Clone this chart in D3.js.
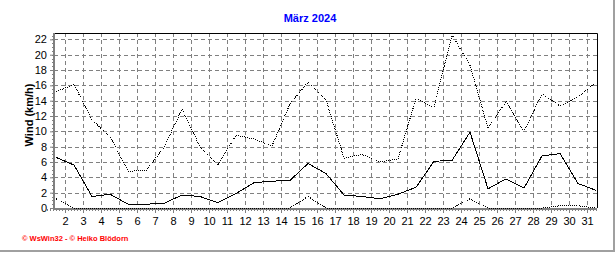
<!DOCTYPE html>
<html>
<head>
<meta charset="utf-8">
<title>Wind März 2024</title>
<script type="text/javascript" src="https://d3js.org/d3.v7.min.js"></script>
<style>
  body { margin: 0; background: #fff; }
  svg text { font-family: "Liberation Sans", Arial, sans-serif; }
</style>
</head>
<body>
<div class="chart"></div>

<script type="text/javascript">

    // values, one per day (1..31)
    const days = d3.range(1, 32);
    const windMax  = [15.2, 16.1, 11.5, 9.3, 4.8, 4.9, 7.9, 12.9, 8.0, 5.6, 9.5, 9.0, 8.1, 13.6, 16.4,
                      14.1, 6.5, 7.0, 6.0, 6.4, 14.3, 13.1, 22.6, 18.6, 10.4, 13.9, 10.0, 14.9, 13.3, 14.5, 16.4];
    const windMean = [6.6, 5.6, 1.5, 1.8, 0.5, 0.5, 0.6, 1.7, 1.5, 0.7, 1.9, 3.3, 3.5, 3.6, 5.8,
                      4.5, 1.7, 1.5, 1.2, 1.8, 2.7, 6.1, 6.2, 9.9, 2.5, 3.8, 2.6, 6.8, 7.1, 3.2, 2.3];
    const windMin  = [1.2, 0, 0, 0, 0, 0, 0, 0, 0, 0, 0, 0, 0, 0, 1.5,
                      0, 0, 0, 0, 0, 0, 0, 0, 1.2, 0, 0, 0, 0, 0.3, 0.3, 0];
    const yTicks = d3.range(0, 23, 2);
    const dayLabels = d3.range(2, 32);

    const width = 616, height = 253;
    const plot = {left: 54, right: 597, top: 33, bottom: 208};

    const svg = d3.select(".chart").append("svg")
        .attr("width", width)
        .attr("height", height);

    const xScale = d3.scaleLinear()
        .domain([0, 30])
        .range([56, 596]);

    const yScale = d3.scaleLinear()
        .domain([0, 22.83])
        .range([plot.bottom, plot.top]);

    // title
    svg.append("text")
        .attr("x", 310)
        .attr("y", 22)
        .attr("text-anchor", "middle")
        .style("font-size", "11px")
        .style("font-weight", "bold")
        .style("fill", "#0000ff")
        .text("März 2024");

    // grid
    svg.append("g")
        .selectAll("line")
        .data(yTicks.filter(d => d > 0))
        .join("line")
        .attr("x1", plot.left).attr("x2", plot.right)
        .attr("y1", d => Math.round(yScale(d)) + 0.5)
        .attr("y2", d => Math.round(yScale(d)) + 0.5)
        .attr("stroke", "#808080")
        .attr("stroke-dasharray", "4,3");

    svg.append("g")
        .selectAll("line")
        .data(dayLabels)
        .join("line")
        .attr("x1", d => Math.round(xScale(d - 1.5)) + 0.5)
        .attr("x2", d => Math.round(xScale(d - 1.5)) + 0.5)
        .attr("y1", plot.top).attr("y2", plot.bottom)
        .attr("stroke", "#808080")
        .attr("stroke-dasharray", "4,3");

    // top and right border
    svg.append("path")
        .attr("d", `M${plot.left},${plot.top + 0.5}H${plot.right + 0.5}V${plot.bottom}`)
        .attr("fill", "none")
        .attr("stroke", "#000");

    // axes
    const yAxis = d3.axisLeft(yScale)
        .tickValues(yTicks)
        .tickSize(4)
        .tickPadding(3);

    const gy = svg.append("g")
        .attr("transform", "translate(" + plot.left + ",0)")
        .call(yAxis);

    const xAxis = d3.axisBottom(xScale)
        .tickValues(dayLabels.map(d => d - 1.5))
        .tickFormat((d, i) => dayLabels[i])
        .tickSize(4)
        .tickPadding(4);

    const gx = svg.append("g")
        .attr("transform", "translate(0," + (plot.bottom + 1) + ")")
        .call(xAxis);

    // minor ticks
    gx.append("g")
        .selectAll("line")
        .data(d3.range(-0.5, 30.01, 1 / 6))
        .join("line")
        .attr("x1", d => Math.round(xScale(d)) + 0.5)
        .attr("x2", d => Math.round(xScale(d)) + 0.5)
        .attr("y1", 0).attr("y2", 2)
        .attr("stroke", "#808080");

    gy.append("g")
        .selectAll("line")
        .data(d3.range(0, 22.8, 0.5))
        .join("line")
        .attr("y1", d => Math.round(yScale(d)) + 0.5)
        .attr("y2", d => Math.round(yScale(d)) + 0.5)
        .attr("x1", 0).attr("x2", -2)
        .attr("stroke", "#808080");

    [gx, gy].forEach(g => {
        g.select(".domain").attr("stroke", "#808080").attr("stroke-width", 2);
        g.selectAll(".tick line").attr("stroke", "#808080");
        g.selectAll(".tick text")
            .style("font-size", "11px")
            .style("font-family", "'Liberation Sans', Arial, sans-serif")
            .attr("fill", "#000");
    });
    gx.select(".domain").attr("d", `M${plot.left},0H${plot.right}`);
    gy.select(".domain").attr("d", `M0,${plot.top}V${plot.bottom + 2}`);

    // y-axis title
    svg.append("text")
        .attr("transform", "translate(33,115) rotate(-90)")
        .attr("text-anchor", "middle")
        .style("font-size", "11px")
        .style("font-weight", "bold")
        .text("Wind  (km/h)");

    // series
    const line = d3.line()
        .x((d, i) => xScale(i))
        .y(d => yScale(d));

    svg.append("path")
        .datum(windMax)
        .attr("d", line)
        .attr("fill", "none")
        .attr("stroke", "#000")
        .attr("stroke-dasharray", "1,1")
        .attr("shape-rendering", "crispEdges");

    svg.append("path")
        .datum(windMin)
        .attr("d", line)
        .attr("fill", "none")
        .attr("stroke", "#000")
        .attr("stroke-dasharray", "1,1")
        .attr("shape-rendering", "crispEdges");

    svg.append("path")
        .datum(windMean)
        .attr("d", line)
        .attr("fill", "none")
        .attr("stroke", "#000")
        .attr("shape-rendering", "crispEdges");

    // footer
    svg.append("text")
        .attr("x", 22)
        .attr("y", 241)
        .style("font-size", "7.5px")
        .style("font-weight", "bold")
        .style("fill", "#ff0000")
        .text("© WsWin32  -  © Heiko Blödorn");

    // frame shadow
    svg.append("path")
        .attr("d", "M614,0V251H0")
        .attr("fill", "none")
        .attr("stroke", "#a0a0a0")
        .attr("stroke-width", 2);

</script>
</body>
</html>
